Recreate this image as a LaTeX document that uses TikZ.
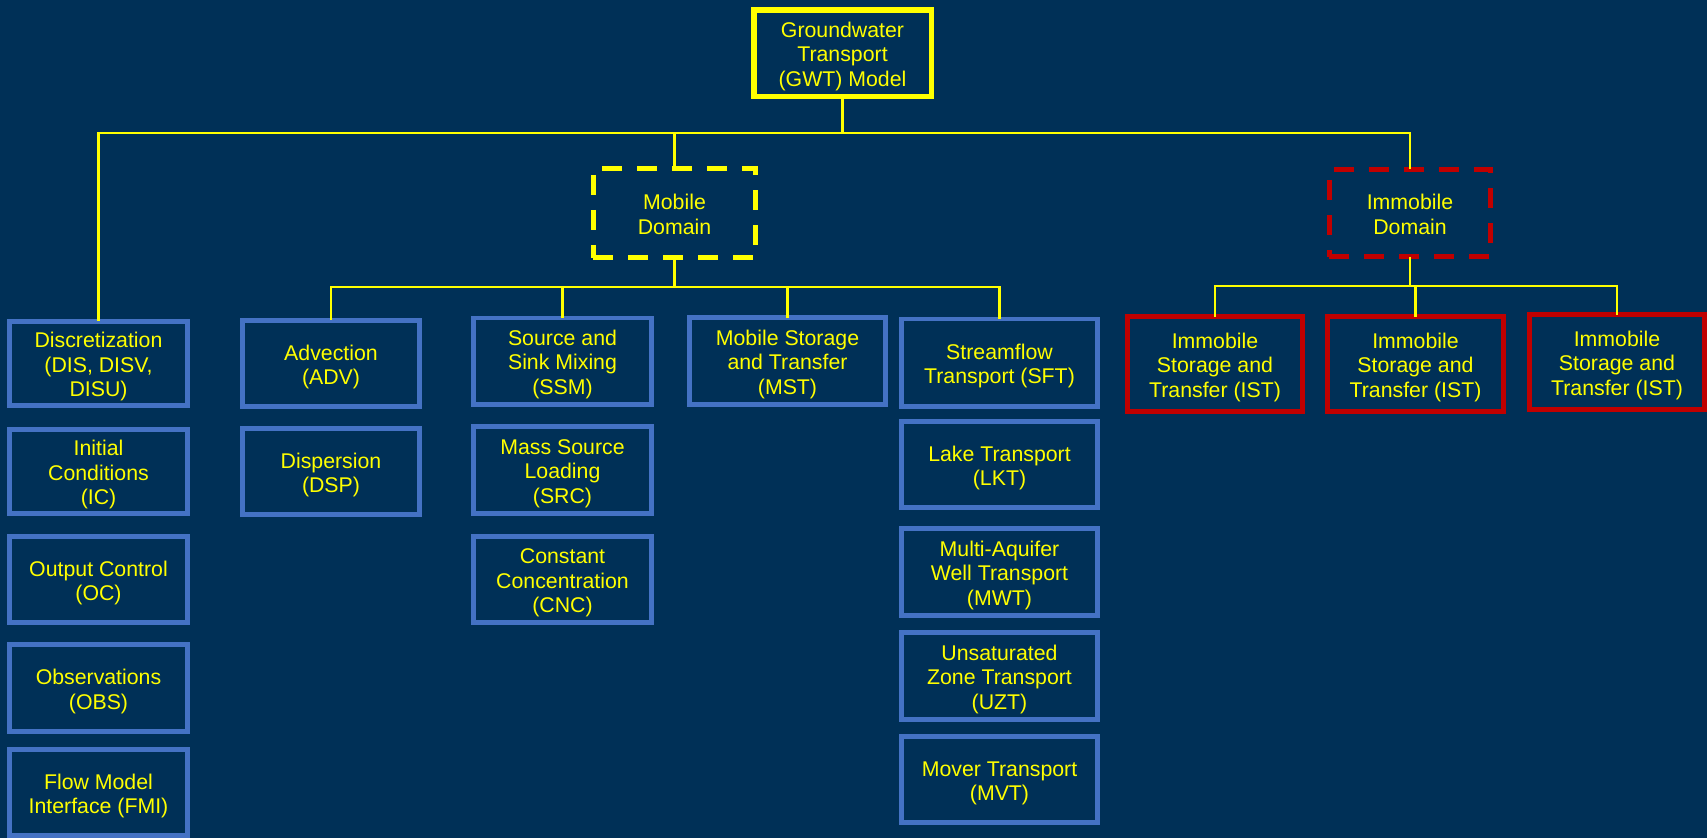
\documentclass[tikz,border=0pt]{standalone}
\usepackage{fontspec}
\setmainfont{Liberation Sans}
\definecolor{navy}{RGB}{0,48,87}
\definecolor{gold}{RGB}{255,255,0}
\definecolor{steel}{RGB}{68,114,196}
\definecolor{crimson}{RGB}{192,0,0}
% fixed first-line height, so every label sits at the same place in its box
\newcommand\capline{\rule{0pt}{22.8pt}}
\begin{document}
\begin{tikzpicture}[x=1pt,y=-1pt,
  every node/.style={inner sep=0pt,outer sep=0pt,align=center,text=gold,
    font=\fontsize{21.3}{24.5}\selectfont,
    execute at end node={\rule[-5pt]{0pt}{5pt}}},
  bluebox/.style={draw=steel,line width=4.6pt,rectangle},
  redbox/.style={draw=crimson,line width=5.3pt,rectangle},
  rootbox/.style={draw=gold,line width=5.5pt,rectangle},
  mobbox/.style={draw=gold,line width=4.8pt,dash pattern=on 20pt off 15pt,rectangle},
  immbox/.style={draw=crimson,line width=4.8pt,dash pattern=on 20pt off 15pt,rectangle},
  wire/.style={draw=gold,line width=2.8pt}]

% background and page size
\fill[navy] (0,0) rectangle (1707,838);
\useasboundingbox (0,0) rectangle (1707,838);

% root and the two domains
\node[rootbox,minimum width=177.5pt,minimum height=86.5pt] (gwt) at (842.5,53) {\capline Groundwater\\Transport\\(GWT) Model};
\node[mobbox,minimum width=162.2pt,minimum height=89.2pt] (mob) at (674.5,213) {\capline Mobile\\Domain};
\node[immbox,minimum width=161.2pt,minimum height=87.2pt] (imm) at (1410,213) {\capline Immobile\\Domain};

% general packages
\node[bluebox,minimum width=178.4pt,minimum height=84.4pt] (disc) at (98.5,363.5) {\capline Discretization\\(DIS, DISV,\\DISU)};
\node[bluebox,minimum width=178.4pt,minimum height=84.4pt] (ic) at (98.5,471.5) {\capline Initial\\Conditions\\(IC)};
\node[bluebox,minimum width=178.4pt,minimum height=86.4pt] (oc) at (98.5,579.5) {\capline Output Control\\(OC)};
\node[bluebox,minimum width=178.4pt,minimum height=87.4pt] (obs) at (98.5,688) {\capline Observations\\(OBS)};
\node[bluebox,minimum width=178.4pt,minimum height=86.4pt] (fmi) at (98.5,792.5) {\capline Flow Model\\Interface (FMI)};

% mobile domain packages
\node[bluebox,minimum width=177.4pt,minimum height=86.4pt] (adv) at (331,363.5) {\capline Advection\\(ADV)};
\node[bluebox,minimum width=177.4pt,minimum height=86.4pt] (dsp) at (331,471.5) {\capline Dispersion\\(DSP)};

\node[bluebox,minimum width=178.4pt,minimum height=86.4pt] (ssm) at (562.5,361) {\capline Source and\\Sink Mixing\\(SSM)};
\node[bluebox,minimum width=178.4pt,minimum height=87.4pt] (src) at (562.5,470) {\capline Mass Source\\Loading\\(SRC)};
\node[bluebox,minimum width=178.4pt,minimum height=86.4pt] (cnc) at (562.5,579.5) {\capline Constant\\Concentration\\(CNC)};

\node[bluebox,minimum width=196.4pt,minimum height=86.9pt] (mst) at (787.5,361) {\capline Mobile Storage\\and Transfer\\(MST)};

\node[bluebox,minimum width=196.4pt,minimum height=87.4pt] (sft) at (999.5,362.5) {\capline Streamflow\\Transport (SFT)};
\node[bluebox,minimum width=196.4pt,minimum height=86.4pt] (lkt) at (999.5,464.5) {\capline Lake Transport\\(LKT)};
\node[bluebox,minimum width=196.4pt,minimum height=87.4pt] (mwt) at (999.5,572) {\capline Multi-Aquifer\\Well Transport\\(MWT)};
\node[bluebox,minimum width=196.4pt,minimum height=87.4pt] (uzt) at (999.5,676) {\capline Unsaturated\\Zone Transport\\(UZT)};
\node[bluebox,minimum width=196.4pt,minimum height=86.4pt] (mvt) at (999.5,779.5) {\capline Mover Transport\\(MVT)};

% immobile domain packages
\node[redbox,minimum width=175.1pt,minimum height=94.7pt] (ist1) at (1215,364) {\capline Immobile\\Storage and\\Transfer (IST)};
\node[redbox,minimum width=175.7pt,minimum height=94.7pt] (ist2) at (1415.5,364) {\capline Immobile\\Storage and\\Transfer (IST)};
\node[redbox,minimum width=174.7pt,minimum height=94.7pt] (ist3) at (1617,362) {\capline Immobile\\Storage and\\Transfer (IST)};

% connector hubs
\coordinate (hubA) at (842.5,133);
\coordinate (hubM) at (674.5,287);
\coordinate (hubI) at (1410,286);

% connectors
\draw[wire] (gwt.south) -- (hubA);
\draw[wire] (hubA) -| (disc.north);
\draw[wire] (hubA) -| (mob.north);
\draw[wire] (hubA) -| (imm.north);

\draw[wire] (mob.south) -- (hubM);
\draw[wire] (hubM) -| (adv.north);
\draw[wire] (hubM) -| (ssm.north);
\draw[wire] (hubM) -| (mst.north);
\draw[wire] (hubM) -| (sft.north);

\draw[wire] (imm.south) -- (hubI);
\draw[wire] (hubI) -| (ist1.north);
\draw[wire] (hubI) -| (ist2.north);
\draw[wire] (hubI) -| (ist3.north);
\end{tikzpicture}
\end{document}
